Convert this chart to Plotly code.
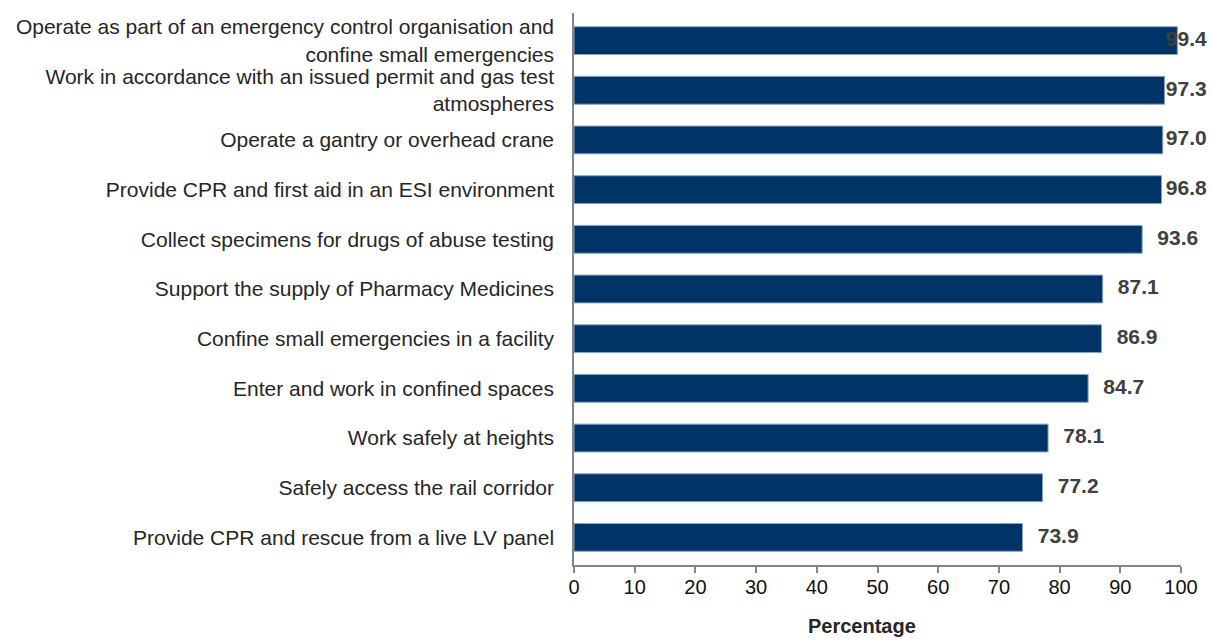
import plotly.graph_objects as go

categories = [
    "Operate as part of an emergency control organisation and<br>confine small emergencies",
    "Work in accordance with an issued permit and gas test<br>atmospheres",
    "Operate a gantry or overhead crane",
    "Provide CPR and first aid in an ESI environment",
    "Collect specimens for drugs of abuse testing",
    "Support the supply of Pharmacy Medicines",
    "Confine small emergencies in a facility",
    "Enter and work in confined spaces",
    "Work safely at heights",
    "Safely access the rail corridor",
    "Provide CPR and rescue from a live LV panel",
]
values = [99.4, 97.3, 97.0, 96.8, 93.6, 87.1, 86.9, 84.7, 78.1, 77.2, 73.9]
x_ticks = [0, 10, 20, 30, 40, 50, 60, 70, 80, 90, 100]
x_title = "Percentage"

BAR_COLOR = "#003466"
TEXT_COLOR = "#404040"
FONT = "Liberation Sans, Arial, sans-serif"

# label placement: a fixed gap after each bar, kept inside the chart on the right
label_gap = 2.5
label_max = 97.5
label_x = [min(v + label_gap, label_max) for v in values]

fig = go.Figure()
fig.add_trace(go.Bar(
    x=values, y=categories, orientation="h",
    marker=dict(color=BAR_COLOR, line=dict(color="#8aa4c4", width=1)),
    hoverinfo="x+y", showlegend=False,
))
fig.add_trace(go.Scatter(
    x=label_x, y=categories, mode="text",
    text=[f"{v:.1f}" for v in values], textposition="middle right",
    textfont=dict(family=FONT, size=21, color=TEXT_COLOR, weight="bold"),
    cliponaxis=False, showlegend=False, hoverinfo="skip",
))

fig.add_annotation(
    text=f"<b>{x_title}</b>", xref="paper", yref="paper",
    x=0.4745, y=-0.1105, xanchor="center", yanchor="middle",
    showarrow=False, font=dict(family=FONT, size=20, color="#262626"),
)

fig.update_layout(
    width=1211, height=641,
    margin=dict(l=574, r=30, t=13, b=76, autoexpand=False),
    paper_bgcolor="white", plot_bgcolor="white",
    bargap=0.44,
    font=dict(family=FONT, size=21, color="#262626"),
    xaxis=dict(
        range=[0, 100], tickvals=x_ticks, ticktext=[str(t) for t in x_ticks],
        showgrid=False, zeroline=False,
        showline=True, linecolor="#868686", linewidth=1.5,
        ticks="outside", ticklen=6, tickcolor="#868686", tickwidth=1.5,
        ticklabelstandoff=-3,
        tickfont=dict(size=20, color="#111111"),
        automargin=False, fixedrange=True,
    ),
    yaxis=dict(
        categoryorder="array", categoryarray=categories, autorange="reversed",
        showgrid=False, zeroline=False,
        showline=True, linecolor="#868686", linewidth=1.5,
        ticks="", ticklabelstandoff=14,
        tickfont=dict(size=21, color="#262626"),
        automargin=False, fixedrange=True,
    ),
)

fig.write_html(
    "out.html",
    config={"displayModeBar": False},
    post_script="document.body.style.margin='0';document.body.style.overflow='hidden';",
)
